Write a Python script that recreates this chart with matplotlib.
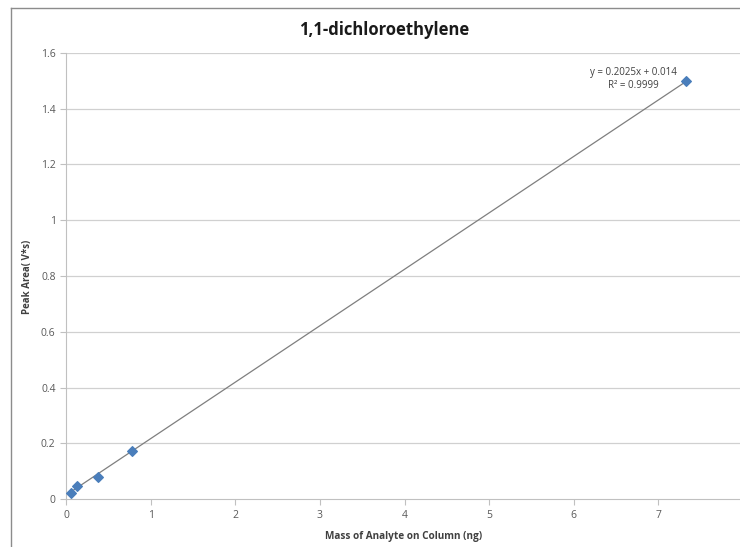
import matplotlib
matplotlib.use("Agg")
import matplotlib.pyplot as plt
from matplotlib.lines import Line2D
import numpy as np

# data
mass_ng = [0.06, 0.13, 0.38, 0.78, 7.33]
peak_area = [0.022, 0.047, 0.079, 0.172, 1.50]
slope = 0.2025
intercept = 0.014
eq_text = "y = 0.2025x + 0.014"
r2_text = "R² = 0.9999"
y_ticks = [0, 0.2, 0.4, 0.6, 0.8, 1, 1.2, 1.4, 1.6]
y_tick_labels = ["0", "0.2", "0.4", "0.6", "0.8", "1", "1.2", "1.4", "1.6"]
x_ticks = [0, 1, 2, 3, 4, 5, 6, 7, 8]

plt.rcParams['font.family'] = ['Open Sans', 'DejaVu Sans']

fig = plt.figure(figsize=(7.4, 5.47), dpi=100)

# chart area border, only left and top edges are visible in the screenshot
bx, by = 10.5 / 740, 1 - 7.5 / 547
fig.add_artist(Line2D([bx, bx], [0, by], transform=fig.transFigure,
                      color="#8c8c8c", linewidth=1.0))
fig.add_artist(Line2D([bx, 1], [by, by], transform=fig.transFigure,
                      color="#8c8c8c", linewidth=1.0))

ax = fig.add_axes([66/740, 48/547, 677/740, 446/547])
ax.set_xlim(0, 8)
ax.set_ylim(0, 1.6)

for yt in y_ticks[1:]:
    ax.axhline(yt, color="#d0d0d0", linewidth=0.9, zorder=0)

xs = np.array([min(mass_ng), max(mass_ng)])
ax.plot(xs, slope * xs + intercept, color="#7f7f7f", linewidth=0.9, zorder=2)
ax.scatter(mass_ng, peak_area, marker="D", s=24, color="#4a7ebb", zorder=3)

ax.text(6.70, 1.548, eq_text + "\n" + r2_text, ha="center", va="top",
        fontsize=7, color="#404040", linespacing=1.25)

for s in ["top", "right"]:
    ax.spines[s].set_visible(False)
ax.spines["left"].set_color("#c0c0c0")
ax.spines["bottom"].set_color("#c0c0c0")

ax.set_xticks(x_ticks)
ax.set_yticks(y_ticks)
ax.set_yticklabels(y_tick_labels)
ax.tick_params(axis="both", colors="#c0c0c0", labelcolor="#595959",
               labelsize=7.5, length=4, width=0.8)
ax.tick_params(axis="x", pad=4)

ax.set_xlabel("Mass of Analyte on Column (ng)", fontsize=7.2, fontweight="bold",
              color="#404040")
ax.xaxis.set_label_coords((404 - 66) / 677, -(531 - 499) / 446)
ax.set_ylabel("Peak Area( V*s)", fontsize=7, fontweight="bold",
              color="#404040")
ax.yaxis.set_label_coords(-(66 - 33) / 677, (499 - 277) / 446)

fig.text(384/740, 1 - 30/547, "1,1-dichloroethylene", ha="center", va="center",
         fontsize=12, fontweight="bold", color="#1a1a1a")

fig.savefig("out.png", dpi=100)
